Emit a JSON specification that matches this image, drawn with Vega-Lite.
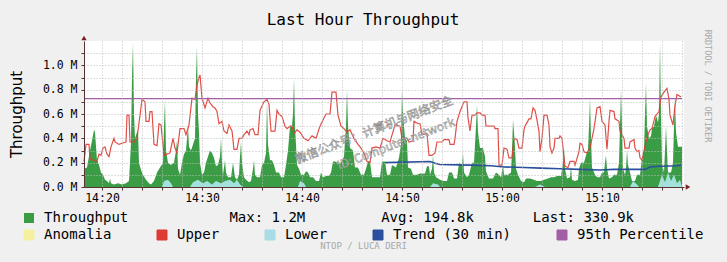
{
  "$schema": "https://vega.github.io/schema/vega-lite/v6.json",
  "width": 600,
  "height": 146,
  "autosize": {"type": "none"},
  "padding": {"left": 84, "top": 41, "right": 43, "bottom": 75},
  "background": "#f0f0f0",
  "view": {"fill": "#ffffff", "stroke": null},
  "config": {
    "font": "DejaVu Sans Mono",
    "legend": {"labelFont": "DejaVu Sans Mono", "labelFontSize": 14, "labelColor": "#000000", "labelLimit": 900}
  },
  "title": {
    "text": "Last Hour Throughput",
    "font": "DejaVu Sans Mono",
    "fontSize": 16,
    "fontWeight": "normal",
    "color": "#000000",
    "anchor": "middle",
    "dx": -21,
    "offset": -14,
    "baseline": "bottom"
  },
  "datasets": {
    "thr": [
      {"m":18.2,"v":0.15},{"m":18.5,"v":0.16},{"m":18.8,"v":0.3},{"m":19.0,"v":0.38},{"m":19.2,"v":0.47},{"m":19.3,"v":0.45},{"m":19.5,"v":0.22},{"m":19.7,"v":0.18},{"m":19.9,"v":0.12},{"m":20.1,"v":0.1},{"m":20.3,"v":0.06},{"m":20.5,"v":0.05},{"m":20.7,"v":0.03},{"m":20.8,"v":0.07},{"m":20.9,"v":0.03},{"m":21.2,"v":0.02},{"m":21.6,"v":0.03},{"m":22.0,"v":0.02},{"m":22.4,"v":0.03},{"m":22.7,"v":0.05},{"m":22.8,"v":0.2},{"m":22.9,"v":0.37},{"m":23.0,"v":0.9},{"m":23.1,"v":1.18},{"m":23.2,"v":0.6},{"m":23.3,"v":0.4},{"m":23.5,"v":0.45},{"m":23.6,"v":0.46},{"m":23.7,"v":0.2},{"m":23.9,"v":0.14},{"m":24.1,"v":0.1},{"m":24.4,"v":0.06},{"m":24.7,"v":0.03},{"m":24.9,"v":0.02},{"m":25.2,"v":0.05},{"m":25.5,"v":0.12},{"m":25.8,"v":0.16},{"m":26.1,"v":0.2},{"m":26.2,"v":0.5},{"m":26.3,"v":0.71},{"m":26.4,"v":0.3},{"m":26.6,"v":0.2},{"m":26.9,"v":0.18},{"m":27.2,"v":0.2},{"m":27.4,"v":0.3},{"m":27.5,"v":0.38},{"m":27.6,"v":0.15},{"m":27.8,"v":0.1},{"m":28.0,"v":0.2},{"m":28.2,"v":0.27},{"m":28.4,"v":0.3},{"m":28.5,"v":0.4},{"m":28.6,"v":0.5},{"m":28.7,"v":0.33},{"m":28.9,"v":0.3},{"m":29.1,"v":0.35},{"m":29.3,"v":0.4},{"m":29.4,"v":0.9},{"m":29.5,"v":1.15},{"m":29.6,"v":0.6},{"m":29.7,"v":0.45},{"m":29.8,"v":0.2},{"m":30.0,"v":0.1},{"m":30.2,"v":0.12},{"m":30.4,"v":0.2},{"m":30.6,"v":0.25},{"m":30.8,"v":0.3},{"m":31.0,"v":0.28},{"m":31.2,"v":0.24},{"m":31.4,"v":0.17},{"m":31.6,"v":0.18},{"m":31.8,"v":0.25},{"m":31.9,"v":0.4},{"m":32.0,"v":0.2},{"m":32.1,"v":0.1},{"m":32.3,"v":0.22},{"m":32.4,"v":0.12},{"m":32.6,"v":0.08},{"m":32.9,"v":0.08},{"m":33.1,"v":0.2},{"m":33.3,"v":0.08},{"m":33.5,"v":0.06},{"m":33.7,"v":0.1},{"m":33.8,"v":0.25},{"m":33.9,"v":0.37},{"m":34.0,"v":0.2},{"m":34.2,"v":0.08},{"m":34.4,"v":0.06},{"m":34.7,"v":0.04},{"m":34.9,"v":0.05},{"m":35.1,"v":0.15},{"m":35.2,"v":0.22},{"m":35.3,"v":0.1},{"m":35.5,"v":0.08},{"m":35.8,"v":0.08},{"m":36.0,"v":0.18},{"m":36.2,"v":0.2},{"m":36.4,"v":0.28},{"m":36.5,"v":0.7},{"m":36.6,"v":0.35},{"m":36.8,"v":0.22},{"m":37.0,"v":0.22},{"m":37.2,"v":0.18},{"m":37.4,"v":0.12},{"m":37.7,"v":0.12},{"m":37.9,"v":0.08},{"m":38.2,"v":0.08},{"m":38.4,"v":0.18},{"m":38.6,"v":0.3},{"m":38.8,"v":0.5},{"m":39.0,"v":0.5},{"m":39.1,"v":0.6},{"m":39.2,"v":0.89},{"m":39.3,"v":0.5},{"m":39.4,"v":0.35},{"m":39.5,"v":0.18},{"m":39.7,"v":0.15},{"m":39.9,"v":0.1},{"m":40.2,"v":0.1},{"m":40.4,"v":0.13},{"m":40.6,"v":0.12},{"m":40.8,"v":0.08},{"m":41.1,"v":0.08},{"m":41.4,"v":0.05},{"m":41.7,"v":0.05},{"m":41.9,"v":0.12},{"m":42.1,"v":0.08},{"m":42.4,"v":0.09},{"m":42.7,"v":0.09},{"m":42.9,"v":0.12},{"m":43.1,"v":0.21},{"m":43.3,"v":0.21},{"m":43.6,"v":0.2},{"m":43.9,"v":0.2},{"m":44.2,"v":0.25},{"m":44.4,"v":0.5},{"m":44.5,"v":0.8},{"m":44.6,"v":0.5},{"m":44.8,"v":0.32},{"m":45.1,"v":0.3},{"m":45.3,"v":0.16},{"m":45.6,"v":0.16},{"m":45.9,"v":0.1},{"m":46.2,"v":0.1},{"m":46.4,"v":0.15},{"m":46.6,"v":0.21},{"m":46.8,"v":0.21},{"m":47.0,"v":0.08},{"m":47.4,"v":0.08},{"m":47.8,"v":0.08},{"m":48.0,"v":0.21},{"m":48.3,"v":0.21},{"m":48.5,"v":0.1},{"m":48.8,"v":0.1},{"m":49.0,"v":0.18},{"m":49.4,"v":0.16},{"m":49.7,"v":0.24},{"m":49.9,"v":0.35},{"m":50.0,"v":0.81},{"m":50.1,"v":0.6},{"m":50.3,"v":0.4},{"m":50.5,"v":0.38},{"m":50.6,"v":0.16},{"m":50.9,"v":0.15},{"m":51.1,"v":0.1},{"m":51.5,"v":0.1},{"m":51.8,"v":0.11},{"m":52.3,"v":0.11},{"m":52.5,"v":0.17},{"m":52.7,"v":0.17},{"m":52.8,"v":0.1},{"m":53.0,"v":0.15},{"m":53.1,"v":0.26},{"m":53.2,"v":0.12},{"m":53.4,"v":0.08},{"m":53.8,"v":0.06},{"m":54.1,"v":0.05},{"m":54.5,"v":0.05},{"m":54.7,"v":0.12},{"m":55.0,"v":0.12},{"m":55.2,"v":0.07},{"m":55.5,"v":0.07},{"m":55.7,"v":0.2},{"m":56.0,"v":0.18},{"m":56.1,"v":0.28},{"m":56.2,"v":0.12},{"m":56.5,"v":0.08},{"m":56.7,"v":0.1},{"m":57.0,"v":0.2},{"m":57.2,"v":0.2},{"m":57.4,"v":0.5},{"m":57.5,"v":0.68},{"m":57.6,"v":0.45},{"m":57.8,"v":0.32},{"m":58.1,"v":0.32},{"m":58.3,"v":0.25},{"m":58.4,"v":0.13},{"m":58.7,"v":0.07},{"m":59.1,"v":0.07},{"m":59.4,"v":0.12},{"m":59.7,"v":0.1},{"m":59.9,"v":0.08},{"m":60.1,"v":0.18},{"m":60.2,"v":0.1},{"m":60.6,"v":0.1},{"m":60.9,"v":0.12},{"m":61.0,"v":0.3},{"m":61.1,"v":0.55},{"m":61.2,"v":0.45},{"m":61.3,"v":0.32},{"m":61.4,"v":0.15},{"m":61.6,"v":0.1},{"m":61.9,"v":0.05},{"m":62.2,"v":0.04},{"m":62.4,"v":0.07},{"m":62.8,"v":0.07},{"m":63.2,"v":0.06},{"m":63.5,"v":0.05},{"m":63.9,"v":0.05},{"m":64.2,"v":0.06},{"m":64.6,"v":0.07},{"m":64.9,"v":0.08},{"m":65.2,"v":0.08},{"m":65.5,"v":0.09},{"m":65.9,"v":0.09},{"m":66.1,"v":0.2},{"m":66.2,"v":0.32},{"m":66.3,"v":0.15},{"m":66.5,"v":0.07},{"m":66.8,"v":0.08},{"m":66.9,"v":0.17},{"m":67.0,"v":0.06},{"m":67.3,"v":0.05},{"m":67.6,"v":0.06},{"m":67.7,"v":0.15},{"m":67.9,"v":0.2},{"m":68.2,"v":0.2},{"m":68.4,"v":0.26},{"m":68.6,"v":0.3},{"m":68.7,"v":0.5},{"m":68.8,"v":0.73},{"m":68.9,"v":0.4},{"m":69.0,"v":0.16},{"m":69.3,"v":0.1},{"m":69.5,"v":0.08},{"m":69.8,"v":0.08},{"m":70.0,"v":0.12},{"m":70.2,"v":0.12},{"m":70.3,"v":0.2},{"m":70.4,"v":0.26},{"m":70.5,"v":0.15},{"m":70.7,"v":0.07},{"m":71.0,"v":0.08},{"m":71.2,"v":0.1},{"m":71.5,"v":0.1},{"m":71.7,"v":0.2},{"m":71.8,"v":0.5},{"m":71.9,"v":0.8},{"m":72.0,"v":0.5},{"m":72.1,"v":0.15},{"m":72.3,"v":0.1},{"m":72.4,"v":0.15},{"m":72.5,"v":0.3},{"m":72.6,"v":0.18},{"m":72.8,"v":0.12},{"m":73.0,"v":0.05},{"m":73.3,"v":0.05},{"m":73.5,"v":0.1},{"m":73.8,"v":0.1},{"m":74.0,"v":0.24},{"m":74.2,"v":0.3},{"m":74.3,"v":0.6},{"m":74.4,"v":0.85},{"m":74.5,"v":0.5},{"m":74.7,"v":0.4},{"m":74.9,"v":0.42},{"m":75.0,"v":0.48},{"m":75.2,"v":0.5},{"m":75.4,"v":0.59},{"m":75.6,"v":0.53},{"m":75.7,"v":0.6},{"m":75.8,"v":1.18},{"m":75.9,"v":0.6},{"m":76.0,"v":0.2},{"m":76.2,"v":0.12},{"m":76.3,"v":0.3},{"m":76.4,"v":0.5},{"m":76.5,"v":0.3},{"m":76.6,"v":0.12},{"m":76.9,"v":0.12},{"m":77.1,"v":0.2},{"m":77.2,"v":0.5},{"m":77.3,"v":0.73},{"m":77.4,"v":0.45},{"m":77.6,"v":0.33},{"m":78.0,"v":0.33}
    ],
    "upper": [
      {"m":18.2,"v":0.21},{"m":18.4,"v":0.35},{"m":18.7,"v":0.35},{"m":18.8,"v":0.23},{"m":19.2,"v":0.22},{"m":19.5,"v":0.21},{"m":19.7,"v":0.27},{"m":19.9,"v":0.26},{"m":20.1,"v":0.32},{"m":20.3,"v":0.33},{"m":20.5,"v":0.27},{"m":20.7,"v":0.25},{"m":20.9,"v":0.33},{"m":21.2,"v":0.40},{"m":21.3,"v":0.37},{"m":21.7,"v":0.35},{"m":22.0,"v":0.36},{"m":22.4,"v":0.37},{"m":22.5,"v":0.59},{"m":22.7,"v":0.59},{"m":22.8,"v":0.37},{"m":23.2,"v":0.37},{"m":23.5,"v":0.40},{"m":23.8,"v":0.59},{"m":24.0,"v":0.72},{"m":24.3,"v":0.70},{"m":24.4,"v":0.54},{"m":24.7,"v":0.54},{"m":24.8,"v":0.62},{"m":25.0,"v":0.62},{"m":25.2,"v":0.35},{"m":25.5,"v":0.34},{"m":25.7,"v":0.52},{"m":25.9,"v":0.51},{"m":26.2,"v":0.26},{"m":26.5,"v":0.27},{"m":26.8,"v":0.28},{"m":27.1,"v":0.40},{"m":27.3,"v":0.32},{"m":27.5,"v":0.28},{"m":27.8,"v":0.48},{"m":28.2,"v":0.48},{"m":28.4,"v":0.43},{"m":28.7,"v":0.51},{"m":29.0,"v":0.73},{"m":29.3,"v":0.72},{"m":29.5,"v":0.84},{"m":29.7,"v":0.90},{"m":29.8,"v":0.92},{"m":30.0,"v":0.73},{"m":30.3,"v":0.65},{"m":30.6,"v":0.73},{"m":30.8,"v":0.69},{"m":31.1,"v":0.66},{"m":31.3,"v":0.65},{"m":31.5,"v":0.62},{"m":31.7,"v":0.52},{"m":32.0,"v":0.54},{"m":32.2,"v":0.46},{"m":32.5,"v":0.44},{"m":32.7,"v":0.51},{"m":33.0,"v":0.46},{"m":33.2,"v":0.31},{"m":33.5,"v":0.31},{"m":33.7,"v":0.40},{"m":34.0,"v":0.40},{"m":34.2,"v":0.43},{"m":34.5,"v":0.46},{"m":34.7,"v":0.43},{"m":34.8,"v":0.47},{"m":35.1,"v":0.48},{"m":35.3,"v":0.43},{"m":35.6,"v":0.43},{"m":35.8,"v":0.63},{"m":36.2,"v":0.70},{"m":36.5,"v":0.72},{"m":36.7,"v":0.68},{"m":36.9,"v":0.46},{"m":37.3,"v":0.46},{"m":37.5,"v":0.63},{"m":37.7,"v":0.60},{"m":38.0,"v":0.58},{"m":38.3,"v":0.50},{"m":38.5,"v":0.48},{"m":38.8,"v":0.50},{"m":39.0,"v":0.50},{"m":39.2,"v":0.44},{"m":39.5,"v":0.47},{"m":39.8,"v":0.45},{"m":40.2,"v":0.40},{"m":40.6,"v":0.38},{"m":41.0,"v":0.42},{"m":41.4,"v":0.40},{"m":41.8,"v":0.50},{"m":42.1,"v":0.55},{"m":42.4,"v":0.60},{"m":42.8,"v":0.60},{"m":43.0,"v":0.78},{"m":43.4,"v":0.78},{"m":43.6,"v":0.59},{"m":43.9,"v":0.50},{"m":44.2,"v":0.48},{"m":44.5,"v":0.45},{"m":44.8,"v":0.47},{"m":45.2,"v":0.40},{"m":45.6,"v":0.35},{"m":45.9,"v":0.32},{"m":46.2,"v":0.28},{"m":46.5,"v":0.21},{"m":46.8,"v":0.20},{"m":47.0,"v":0.32},{"m":47.4,"v":0.33},{"m":47.8,"v":0.32},{"m":48.1,"v":0.40},{"m":48.5,"v":0.38},{"m":48.8,"v":0.37},{"m":49.3,"v":0.51},{"m":49.8,"v":0.50},{"m":50.0,"v":0.40},{"m":50.5,"v":0.40},{"m":50.7,"v":0.37},{"m":51.1,"v":0.38},{"m":51.2,"v":0.54},{"m":51.6,"v":0.52},{"m":51.8,"v":0.52},{"m":52.0,"v":0.43},{"m":52.5,"v":0.44},{"m":52.7,"v":0.26},{"m":53.0,"v":0.26},{"m":53.3,"v":0.28},{"m":53.5,"v":0.37},{"m":54.0,"v":0.37},{"m":54.2,"v":0.39},{"m":54.7,"v":0.39},{"m":54.8,"v":0.35},{"m":55.2,"v":0.35},{"m":55.3,"v":0.40},{"m":55.5,"v":0.54},{"m":55.8,"v":0.62},{"m":56.2,"v":0.70},{"m":56.5,"v":0.70},{"m":56.6,"v":0.57},{"m":56.8,"v":0.46},{"m":57.0,"v":0.59},{"m":57.3,"v":0.59},{"m":57.5,"v":0.61},{"m":57.8,"v":0.61},{"m":58.0,"v":0.59},{"m":58.3,"v":0.59},{"m":58.4,"v":0.50},{"m":59.2,"v":0.50},{"m":59.3,"v":0.48},{"m":59.6,"v":0.48},{"m":59.7,"v":0.18},{"m":60.0,"v":0.18},{"m":60.2,"v":0.32},{"m":60.5,"v":0.31},{"m":60.7,"v":0.24},{"m":61.0,"v":0.24},{"m":61.2,"v":0.40},{"m":61.5,"v":0.39},{"m":61.7,"v":0.32},{"m":62.0,"v":0.32},{"m":62.2,"v":0.47},{"m":62.3,"v":0.50},{"m":62.7,"v":0.56},{"m":62.9,"v":0.56},{"m":63.1,"v":0.65},{"m":63.3,"v":0.63},{"m":63.5,"v":0.55},{"m":63.7,"v":0.46},{"m":63.8,"v":0.29},{"m":64.0,"v":0.40},{"m":64.2,"v":0.59},{"m":64.5,"v":0.59},{"m":64.7,"v":0.51},{"m":64.8,"v":0.33},{"m":65.0,"v":0.28},{"m":65.2,"v":0.32},{"m":65.3,"v":0.40},{"m":65.7,"v":0.40},{"m":65.8,"v":0.42},{"m":66.0,"v":0.40},{"m":66.2,"v":0.24},{"m":66.3,"v":0.17},{"m":66.6,"v":0.16},{"m":66.8,"v":0.21},{"m":67.2,"v":0.21},{"m":67.3,"v":0.18},{"m":67.7,"v":0.29},{"m":67.8,"v":0.36},{"m":68.0,"v":0.35},{"m":68.2,"v":0.29},{"m":68.5,"v":0.28},{"m":68.8,"v":0.32},{"m":69.2,"v":0.48},{"m":69.5,"v":0.65},{"m":69.8,"v":0.66},{"m":70.0,"v":0.54},{"m":70.3,"v":0.51},{"m":70.5,"v":0.31},{"m":70.7,"v":0.54},{"m":70.8,"v":0.63},{"m":71.2,"v":0.62},{"m":71.3,"v":0.56},{"m":71.7,"v":0.54},{"m":71.8,"v":0.46},{"m":72.2,"v":0.40},{"m":72.3,"v":0.32},{"m":72.7,"v":0.32},{"m":72.8,"v":0.37},{"m":73.2,"v":0.39},{"m":73.3,"v":0.32},{"m":73.5,"v":0.29},{"m":73.7,"v":0.30},{"m":73.8,"v":0.24},{"m":74.0,"v":0.22},{"m":74.2,"v":0.30},{"m":74.5,"v":0.41},{"m":74.8,"v":0.47},{"m":75.0,"v":0.48},{"m":75.3,"v":0.58},{"m":75.7,"v":0.62},{"m":75.9,"v":0.74},{"m":76.2,"v":0.78},{"m":76.5,"v":0.81},{"m":76.7,"v":0.72},{"m":76.8,"v":0.59},{"m":77.1,"v":0.51},{"m":77.3,"v":0.67},{"m":77.5,"v":0.76},{"m":77.9,"v":0.74}
    ],
    "lower": [
      {"m":18.2,"v":0},{"m":26.0,"v":0},{"m":26.2,"v":0.05},{"m":26.6,"v":0.06},{"m":26.9,"v":0.03},{"m":27.1,"v":0},{"m":28.8,"v":0},{"m":29.1,"v":0.04},{"m":29.6,"v":0.06},{"m":30.1,"v":0.03},{"m":30.5,"v":0.05},{"m":31.0,"v":0.02},{"m":31.4,"v":0.05},{"m":31.9,"v":0.03},{"m":32.3,"v":0.05},{"m":32.8,"v":0.06},{"m":33.2,"v":0.03},{"m":33.5,"v":0.06},{"m":33.8,"v":0.02},{"m":34.1,"v":0},{"m":39.6,"v":0},{"m":39.8,"v":0.05},{"m":40.2,"v":0.03},{"m":40.4,"v":0},{"m":52.8,"v":0},{"m":53.1,"v":0.03},{"m":53.6,"v":0.02},{"m":53.8,"v":0},{"m":63.3,"v":0},{"m":63.8,"v":0.02},{"m":64.3,"v":0},{"m":72.8,"v":0},{"m":73.1,"v":0.05},{"m":73.5,"v":0.02},{"m":73.7,"v":0},{"m":75.6,"v":0},{"m":76.0,"v":0.1},{"m":76.3,"v":0.04},{"m":76.6,"v":0.12},{"m":76.9,"v":0.05},{"m":77.2,"v":0.1},{"m":77.5,"v":0.03},{"m":77.8,"v":0.06},{"m":78.0,"v":0}
    ],
    "trend": [
      {"m":48.3,"v":0.2},{"m":52.8,"v":0.21},{"m":53.3,"v":0.195},{"m":53.8,"v":0.185},{"m":56.8,"v":0.18},{"m":58.9,"v":0.175},{"m":60.2,"v":0.165},{"m":62.2,"v":0.16},{"m":63.9,"v":0.155},{"m":65.8,"v":0.15},{"m":67.8,"v":0.145},{"m":69.8,"v":0.14},{"m":71.2,"v":0.145},{"m":74.3,"v":0.145},{"m":74.8,"v":0.165},{"m":75.8,"v":0.17},{"m":77.5,"v":0.175},{"m":77.9,"v":0.18}
    ],
    "pct": [
      {"m":18.2,"v":0.727},{"m":78.0,"v":0.727}
    ],
    "watermark": [
      {"m":47.2,"v":0.47,"label":"微信公众号：计算机与网络安全"},
      {"m":49.4,"v":0.355,"label":"ID: Computer-network"}
    ],
    "credit": [
      {"m":80.6,"v":0.83,"label":"RRDTOOL / TOBI OETIKER"}
    ],
    "arrows": [
      {"m":18.2,"v":1.225,"shape":"triangle-up"},
      {"m":78.6,"v":0,"shape":"triangle-right"}
    ]
  },
  "encoding": {
    "x": {
      "field": "m",
      "type": "quantitative",
      "scale": {"domain": [18.2, 78.2], "nice": false, "zero": false},
      "axis": {
        "values": [20,22,24,26,28,30,32,34,36,38,40,42,44,46,48,50,52,54,56,58,60,62,64,66,68,70,72,74,76,78],
        "labelExpr": "datum.value % 10 == 0 ? (14 + floor(datum.value / 60)) + ':' + ((datum.value % 60) < 10 ? '0' : '') + (datum.value % 60) : ''",
        "labelOverlap": false,
        "labelFlush": false,
        "grid": true,
        "gridColor": "#bdbdbd",
        "gridDash": [1, 2],
        "domainColor": "#553333",
        "tickColor": "#553333",
        "tickSize": 3,
        "labelFont": "DejaVu Sans Mono",
        "labelFontSize": 11.5,
        "labelColor": "#000000",
        "labelPadding": 2,
        "title": "NTOP / LUCA DERI",
        "titleFont": "DejaVu Sans Mono",
        "titleFontSize": 9,
        "titleFontWeight": "normal",
        "titleColor": "#a8a8a8",
        "titleX": 279,
        "titleY": 58,
        "titleAlign": "center",
        "titleBaseline": "middle",
        "zindex": 1
      }
    },
    "y": {
      "field": "v",
      "type": "quantitative",
      "scale": {"domain": [0, 1.2], "nice": false},
      "axis": {
        "values": [0,0.1,0.2,0.3,0.4,0.5,0.6,0.7,0.8,0.9,1.0,1.1],
        "labelExpr": "round(datum.value * 10) % 2 == 0 ? format(datum.value, '.1f') + ' M' : ''",
        "labelOverlap": false,
        "labelFlush": false,
        "grid": true,
        "gridColor": "#bdbdbd",
        "gridDash": [1, 2],
        "domainColor": "#553333",
        "tickColor": "#553333",
        "tickSize": 3,
        "labelFont": "DejaVu Sans Mono",
        "labelFontSize": 11.5,
        "labelColor": "#000000",
        "labelPadding": 4,
        "title": "Throughput",
        "titleFont": "DejaVu Sans",
        "titleFontSize": 15,
        "titleFontWeight": "normal",
        "titleColor": "#000000",
        "titleX": -60,
        "titleY": 73,
        "titleAngle": -90,
        "titleAlign": "center",
        "titleBaseline": "bottom",
        "zindex": 1
      }
    }
  },
  "layer": [
    {
      "data": {"name": "thr"},
      "mark": {"type": "area", "opacity": 1, "interpolate": "linear"},
      "encoding": {
        "fill": {
          "datum": "Throughput",
          "scale": {"domain": ["Throughput"], "range": ["#3a9d45"]},
          "legend": {
            "orient": "none",
            "legendX": -62,
            "legendY": 170,
            "title": null,
            "padding": 0,
            "symbolType": "square",
            "symbolSize": 100,
            "labelOffset": 8,
            "labelExpr": "datum.label + '\u00a0\u00a0\u00a0\u00a0\u00a0\u00a0\u00a0\u00a0\u00a0\u00a0\u00a0\u00a0Max: 1.2M\u00a0\u00a0\u00a0\u00a0\u00a0\u00a0\u00a0\u00a0\u00a0Avg: 194.8k\u00a0\u00a0\u00a0\u00a0\u00a0\u00a0\u00a0Last: 330.9k'",
            "encode": {"symbols": {"update": {"stroke": {"value": "#333333"}, "strokeWidth": {"value": 1}, "opacity": {"value": 1}}}}
          }
        }
      }
    },
    {
      "data": {"name": "lower"},
      "mark": {"type": "area", "opacity": 1, "fill": "#a3e1dd", "interpolate": "linear"}
    },
    {
      "data": {"name": "upper"},
      "mark": {"type": "line", "strokeWidth": 1.2, "strokeOpacity": 0.9, "interpolate": "linear"},
      "encoding": {
        "stroke": {
          "datum": "Upper",
          "scale": {"domain": ["Anomalia", "Upper", "Lower", "Trend (30 min)", "95th Percentile"], "range": ["#f5f0a0", "#dd3b33", "#a8dde6", "#2a4f9c", "#a35fa6"]},
          "legend": {
            "orient": "none",
            "legendX": -62,
            "legendY": 187,
            "direction": "horizontal",
            "title": null,
            "padding": 0,
            "symbolType": "square",
            "symbolSize": 100,
            "labelOffset": 8,
            "columnPadding": 43,
            "encode": {"symbols": {"update": {"fill": {"scale": "stroke", "field": "value"}, "stroke": {"value": "#333333"}, "strokeWidth": {"value": 1}, "opacity": {"value": 1}}}}
          }
        }
      }
    },
    {
      "data": {"name": "trend"},
      "mark": {"type": "line", "strokeWidth": 1.6, "interpolate": "linear"},
      "encoding": {
        "stroke": {
          "datum": "Trend (30 min)",
          "scale": {"domain": ["Anomalia", "Upper", "Lower", "Trend (30 min)", "95th Percentile"], "range": ["#f5f0a0", "#dd3b33", "#a8dde6", "#2a4f9c", "#a35fa6"]}
        }
      }
    },
    {
      "data": {"name": "pct"},
      "mark": {"type": "line", "strokeWidth": 1.3},
      "encoding": {
        "stroke": {
          "datum": "95th Percentile",
          "scale": {"domain": ["Anomalia", "Upper", "Lower", "Trend (30 min)", "95th Percentile"], "range": ["#f5f0a0", "#dd3b33", "#a8dde6", "#2a4f9c", "#a35fa6"]}
        }
      }
    },
    {
      "data": {"name": "watermark"},
      "mark": {"type": "text", "angle": -21, "font": "Noto Sans CJK SC", "fontSize": 12, "fill": "#ffffff", "fillOpacity": 0.7, "stroke": "#7a7a7a", "strokeWidth": 0.6, "strokeOpacity": 0.85, "align": "center", "baseline": "middle"},
      "encoding": {"text": {"field": "label"}}
    },
    {
      "data": {"name": "arrows"},
      "mark": {"type": "point", "filled": true, "size": 28, "fill": "#7a1f1f", "opacity": 1, "strokeWidth": 0},
      "encoding": {"shape": {"field": "shape", "type": "nominal", "scale": null}}
    },
    {
      "data": {"name": "credit"},
      "mark": {"type": "text", "angle": 90, "font": "DejaVu Sans Mono", "fontSize": 8.5, "fill": "#a8a8a8", "align": "center", "baseline": "middle"},
      "encoding": {"text": {"field": "label"}}
    }
  ]
}
